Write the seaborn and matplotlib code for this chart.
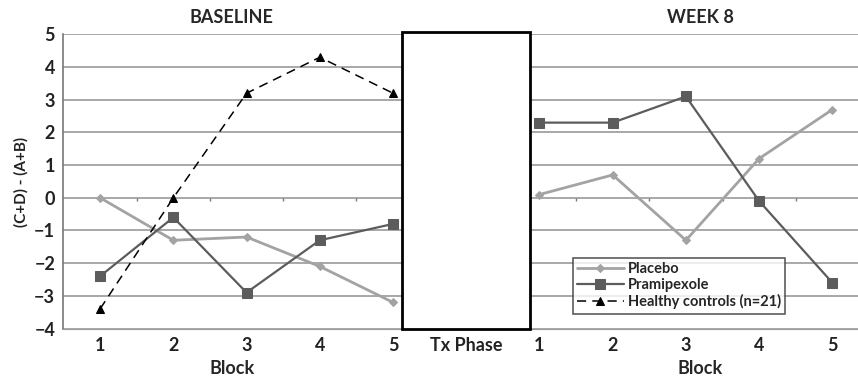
import numpy as np
import pandas as pd
import seaborn as sns
import matplotlib.pyplot as plt
from matplotlib.patches import Rectangle

blocks = ["1", "2", "3", "4", "5"]
tick_labels = blocks + ["Tx Phase"] + blocks

# baseline values
placebo_base = [0, -1.3, -1.2, -2.1, -3.2]
pramipexole_base = [-2.4, -0.6, -2.9, -1.3, -0.8]
healthy_base = [-3.4, 0, 3.2, 4.3, 3.2]
# week 8 values
placebo_wk8 = [0.1, 0.7, -1.3, 1.2, 2.7]
pramipexole_wk8 = [2.3, 2.3, 3.1, -0.1, -2.6]

pos_base = np.arange(5)
pos_wk8 = np.arange(6, 11)

sns.set_style("white")
plt.rcParams["font.family"] = ["Lato", "DejaVu Sans"]

fig, ax = plt.subplots(figsize=(8.58, 3.82), dpi=100)
fig.subplots_adjust(left=0.074, right=1.0, top=0.91, bottom=0.14)

styles = {
    "Placebo": dict(color="#a3a3a3", marker="D", markersize=4, lw=2, ls="-"),
    "Pramipexole": dict(color="#5c5c5c", marker="s", markersize=7, lw=1.6, ls="-"),
    "Healthy controls (n=21)": dict(color="black", marker="^", markersize=6, lw=1.1, ls=(0, (6, 4))),
}

series = [
    ("Placebo", pos_base, placebo_base),
    ("Pramipexole", pos_base, pramipexole_base),
    ("Healthy controls (n=21)", pos_base, healthy_base),
    ("Placebo", pos_wk8, placebo_wk8),
    ("Pramipexole", pos_wk8, pramipexole_wk8),
]
seen = set()
for name, x, y in series:
    st = styles[name]
    sns.lineplot(x=x, y=y, ax=ax, color=st["color"], marker=st["marker"],
                 markersize=st["markersize"], linewidth=st["lw"], linestyle=st["ls"],
                 markeredgecolor=st["color"], label=None if name in seen else name,
                 legend=False, zorder=3)
    seen.add(name)

ax.set_ylim(-4, 5)
ax.set_xlim(-0.5, 10.35)
ax.set_yticks(range(-4, 6))
ax.set_xticks(range(11))
ax.set_xticklabels(tick_labels)
ax.yaxis.grid(True, color="#9a9a9a", lw=1.2)
ax.tick_params(axis="both", labelsize=13, length=0, pad=6)
for lab in ax.get_xticklabels() + ax.get_yticklabels():
    lab.set_fontweight("bold")
    lab.set_color("#222222")
for side in ["top", "right"]:
    ax.spines[side].set_visible(False)
ax.spines["bottom"].set_color("#9a9a9a")
ax.spines["left"].set_color("#777777")
ax.spines["left"].set_linewidth(1.2)

# small category ticks on the zero line
ax.vlines(np.arange(0.5, 4), -0.1, 0, color="#777777", lw=1)
ax.vlines(np.arange(6.5, 10), -0.1, 0, color="#777777", lw=1)

# treatment phase box
ax.add_patch(Rectangle((4.12, -4), 1.75, 9.06, facecolor="white", edgecolor="black",
                       lw=2, zorder=4, clip_on=False))

ax.set_ylabel("(C+D) - (A+B)", fontsize=11, fontweight="bold", color="#222222", labelpad=4)
ax.text(1.8, 5.25, "BASELINE", ha="center", va="bottom", fontsize=13, fontweight="bold")
ax.text(8.2, 5.25, "WEEK 8", ha="center", va="bottom", fontsize=13, fontweight="bold")
ax.text(1.8, -4.95, "Block", ha="center", va="top", fontsize=13, fontweight="bold")
ax.text(8.2, -4.95, "Block", ha="center", va="top", fontsize=13, fontweight="bold")

handles, labels = ax.get_legend_handles_labels()
leg = ax.legend(handles, labels, loc="lower left", bbox_to_anchor=(0.637, 0.04),
                frameon=True, fancybox=False, handlelength=3.2,
                borderpad=0.3, labelspacing=0.15, handletextpad=0.3,
                borderaxespad=0.2, prop={"weight": "bold", "size": 10.5})
leg.get_frame().set_edgecolor("#333333")
leg.get_frame().set_linewidth(1.2)
leg.set_zorder(5)

plt.savefig("out.png", dpi=100)
